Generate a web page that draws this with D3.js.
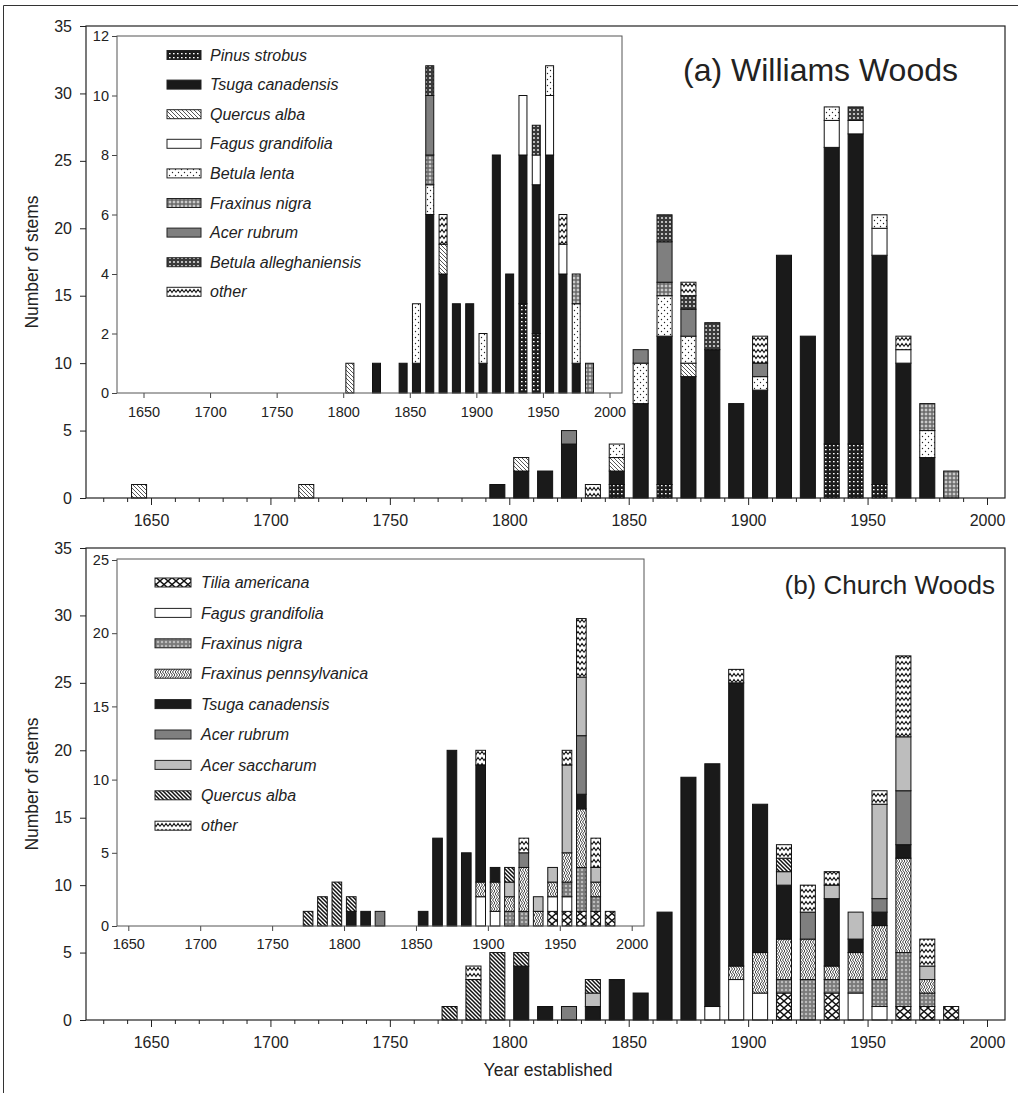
<!DOCTYPE html>
<html><head><meta charset="utf-8">
<script src="https://cdnjs.cloudflare.com/ajax/libs/d3/7.8.5/d3.min.js"></script>
<style>
body{margin:0;background:#fff}
svg{display:block}
text{font-family:"Liberation Sans",Arial,Helvetica,sans-serif;fill:#222}
</style>
</head><body>
<svg id="chart" width="1018" height="1093"></svg>
<script>
// ---------------- DATA ----------------
// Panel (a) Williams Woods — species (stack order, bottom to top)
const speciesA = ["Pinus strobus","Tsuga canadensis","Quercus alba","Fagus grandifolia","Betula lenta","Fraxinus nigra","Acer rubrum","Betula alleghaniensis","other"];
// main histogram (a)
const yearsMainA = [1645,1715,1795,1805,1815,1825,1835,1845,1855,1865,1875,1885,1895,1905,1915,1925,1935,1945,1955,1965,1975,1985];
const mainA_Pinus   = [0,0,0,0,0,0,0,1,0,1,0,0,0,0,0,0,4,4,1,0,0,0];
const mainA_Tsuga   = [0,0,1,2,2,4,0,1,7,11,9,11,7,8,18,12,22,23,17,10,3,0];
const mainA_Quercus = [1,1,0,1,0,0,0,1,0,0,1,0,0,0,0,0,0,0,0,0,0,0];
const mainA_Fagus   = [0,0,0,0,0,0,0,0,0,0,0,0,0,0,0,0,2,1,2,1,0,0];
const mainA_BLenta  = [0,0,0,0,0,0,0,1,3,3,2,0,0,1,0,0,1,0,1,0,2,0];
const mainA_FNigra  = [0,0,0,0,0,0,0,0,0,1,0,0,0,0,0,0,0,0,0,0,2,2];
const mainA_ARubrum = [0,0,0,0,0,1,0,0,1,3,2,0,0,1,0,0,0,0,0,0,0,0];
const mainA_BAllegh = [0,0,0,0,0,0,0,0,0,2,1,2,0,0,0,0,0,1,0,0,0,0];
const mainA_Other   = [0,0,0,0,0,0,1,0,0,0,1,0,0,2,0,0,0,0,0,1,0,0];
// inset histogram (a)
const yearsInsetA = [1805,1825,1845,1855,1865,1875,1885,1895,1905,1915,1925,1935,1945,1955,1965,1975,1985];
const insetA_Pinus   = [0,0,0,0,0,0,0,0,0,0,0,3,2,0,0,0,0];
const insetA_Tsuga   = [0,1,1,1,6,4,3,3,1,8,4,5,5,8,4,1,0];
const insetA_Quercus = [1,0,0,0,0,1,0,0,0,0,0,0,0,0,0,0,0];
const insetA_Fagus   = [0,0,0,0,0,0,0,0,0,0,0,2,1,2,1,0,0];
const insetA_BLenta  = [0,0,0,2,1,0,0,0,1,0,0,0,0,1,0,2,0];
const insetA_FNigra  = [0,0,0,0,1,0,0,0,0,0,0,0,0,0,0,1,1];
const insetA_ARubrum = [0,0,0,0,2,0,0,0,0,0,0,0,0,0,0,0,0];
const insetA_BAllegh = [0,0,0,0,1,0,0,0,0,0,0,0,1,0,0,0,0];
const insetA_Other   = [0,0,0,0,0,1,0,0,0,0,0,0,0,0,1,0,0];

// Panel (b) Church Woods
const speciesB = ["Tilia americana","Fagus grandifolia","Fraxinus nigra","Fraxinus pennsylvanica","Tsuga canadensis","Acer rubrum","Acer saccharum","Quercus alba","other"];
const yearsMainB = [1775,1785,1795,1805,1815,1825,1835,1845,1855,1865,1875,1885,1895,1905,1915,1925,1935,1945,1955,1965,1975,1985];
const mainB_Tilia   = [0,0,0,0,0,0,0,0,0,0,0,0,0,0,2,0,2,0,0,1,1,1];
const mainB_Fagus   = [0,0,0,0,0,0,0,0,0,0,0,1,3,2,0,0,0,2,1,0,0,0];
const mainB_FNigra  = [0,0,0,0,0,0,0,0,0,0,0,0,0,0,1,3,1,1,2,4,1,0];
const mainB_FPenn   = [0,0,0,0,0,0,0,0,0,0,0,0,1,3,3,3,1,2,4,7,1,0];
const mainB_Tsuga   = [0,0,0,4,1,0,1,3,2,8,18,18,21,11,4,0,5,1,1,1,0,0];
const mainB_ARubrum = [0,0,0,0,0,1,0,0,0,0,0,0,0,0,0,2,0,0,1,4,0,0];
const mainB_ASacch  = [0,0,0,0,0,0,1,0,0,0,0,0,0,0,1,0,1,2,7,4,1,0];
const mainB_Quercus = [1,3,5,1,0,0,1,0,0,0,0,0,0,0,1,0,0,0,0,0,0,0];
const mainB_Other   = [0,1,0,0,0,0,0,0,0,0,0,0,1,0,1,2,1,0,1,6,2,0];
const yearsInsetB = [1775,1785,1795,1805,1815,1825,1855,1865,1875,1885,1895,1905,1915,1925,1935,1945,1955,1965,1975,1985];
const insetB_Tilia   = [0,0,0,0,0,0,0,0,0,0,0,0,0,0,0,1,1,1,1,1];
const insetB_Fagus   = [0,0,0,0,0,0,0,0,0,0,2,1,0,0,0,1,1,0,0,0];
const insetB_FNigra  = [0,0,0,0,0,0,0,0,0,0,0,0,1,1,0,0,1,3,1,0];
const insetB_FPenn   = [0,0,0,0,0,0,0,0,0,0,1,2,1,3,1,1,2,4,1,0];
const insetB_Tsuga   = [0,0,0,1,1,0,1,6,12,5,8,1,0,0,0,0,0,1,0,0];
const insetB_ARubrum = [0,0,0,0,0,1,0,0,0,0,0,0,0,1,0,0,0,4,0,0];
const insetB_ASacch  = [0,0,0,0,0,0,0,0,0,0,0,0,1,0,1,1,6,4,1,0];
const insetB_Quercus = [1,2,3,1,0,0,0,0,0,0,0,0,1,0,0,0,0,0,0,0];
const insetB_Other   = [0,0,0,0,0,0,0,0,0,0,1,0,0,1,0,0,1,4,2,0];

// tick labels
const xTicksMain = [1650,1700,1750,1800,1850,1900,1950,2000];
const yTicksMain = [0,5,10,15,20,25,30,35];
const yTicksInsetA = [0,2,4,6,8,10,12];
const yTicksInsetB = [0,5,10,15,20,25];
const titleA = "(a) Williams Woods", titleB = "(b) Church Woods";
const yTitle = "Number of stems", xTitle = "Year established";

// ---------------- STYLES ----------------
const fillsA = ["url(#pinus)","#1a1a1a","url(#quercusA)","#ffffff","url(#lenta)","url(#fnigraA)","#7f7f7f","url(#allegh)","url(#other)"];
const fillsB = ["url(#tilia)","#ffffff","url(#fnigraB)","url(#fpenn)","#1a1a1a","#7f7f7f","#bdbdbd","url(#quercusB)","url(#other)"];

const svg = d3.select("#chart");
const defs = svg.append("defs");
function pat(id,w,h,bg,draw){
  const p = defs.append("pattern").attr("id",id).attr("patternUnits","userSpaceOnUse").attr("width",w).attr("height",h);
  p.append("rect").attr("width",w).attr("height",h).attr("fill",bg);
  draw(p);
}
pat("pinus",4,4,"#1c1c1c",p=>{p.append("rect").attr("x",1).attr("y",1).attr("width",1.6).attr("height",1.3).attr("fill","#fff");});
pat("allegh",4,4,"#3a3a3a",p=>{p.append("circle").attr("cx",2).attr("cy",2).attr("r",1.1).attr("fill","#ddd");});
pat("quercusA",4,4,"#fff",p=>{p.append("path").attr("d","M-1,-1L5,5M-1,3L1,5M3,-1L5,1").attr("stroke","#444").attr("stroke-width",0.9);});
pat("quercusB",4,4,"#fff",p=>{p.append("path").attr("d","M-1,-1L5,5M-1,3L1,5M3,-1L5,1").attr("stroke","#111").attr("stroke-width",1.5);});
pat("lenta",6,6,"#fff",p=>{p.append("circle").attr("cx",1.5).attr("cy",1.5).attr("r",0.7).attr("fill","#222");p.append("circle").attr("cx",4.5).attr("cy",4.5).attr("r",0.7).attr("fill","#222");});
pat("fnigraA",4,4,"#6e6e6e",p=>{p.append("path").attr("d","M2,0.6V3.4M0.6,2H3.4").attr("stroke","#fff").attr("stroke-width",0.8);});
pat("fnigraB",4,4,"#7a7a7a",p=>{p.append("path").attr("d","M2,0.8V3.2M0.8,2H3.2").attr("stroke","#eee").attr("stroke-width",0.7);});
pat("other",8,6,"#fff",p=>{p.append("path").attr("d","M0,4.5L2,1.5L4,4.5L6,1.5L8,4.5").attr("fill","none").attr("stroke","#111").attr("stroke-width",1.1);});
pat("fpenn",5,6,"#fff",p=>{p.append("path").attr("d","M0,0L2.5,3L0,6M2.5,0L5,3L2.5,6").attr("fill","none").attr("stroke","#222").attr("stroke-width",0.9);});
pat("tilia",8,7,"#fff",p=>{p.append("path").attr("d","M0,0L8,7M8,0L0,7").attr("stroke","#111").attr("stroke-width",1.4);});

// ---------------- HELPERS ----------------
function buildSeries(keys, arrays, fills){ return keys.map((k,i)=>({key:k, values:arrays[i], fill:fills[i]})); }
function drawBars(g, years, series, x, y, widthYears){
  const table = years.map((yr,i)=>{ const o={year:yr}; series.forEach(s=>o[s.key]=s.values[i]); return o; });
  const layers = d3.stack().keys(series.map(s=>s.key))(table);
  layers.forEach((layer,li)=>{
    g.append("g").selectAll("rect").data(layer.filter(d=>d[1]>d[0])).join("rect")
      .attr("x", d=>x(d.data.year - widthYears/2))
      .attr("width", d=>x(d.data.year + widthYears/2) - x(d.data.year - widthYears/2))
      .attr("y", d=>y(d[1]))
      .attr("height", d=>y(d[0]) - y(d[1]))
      .attr("fill", series[li].fill)
      .attr("stroke","#111").attr("stroke-width",1);
  });
}
function mainPanel(top, bottom, years, series){
  const x = d3.scaleLinear().domain([1650,2000]).range([151,987]);
  const left = 86, right = 1005;
  const y = d3.scaleLinear().domain([0,35]).range([bottom, top]);
  const g = svg.append("g");
  const minor = d3.range(1630, 2001, 10).filter(v=>v%50!==0);
  g.append("g").attr("transform",`translate(0,${bottom})`)
    .call(d3.axisBottom(x).tickValues(minor).tickSize(4).tickFormat(""))
    .call(a=>a.select(".domain").remove());
  g.append("g").attr("transform",`translate(0,${bottom})`)
    .call(d3.axisBottom(x).tickValues(xTicksMain).tickSize(7).tickPadding(10).tickFormat(d3.format("d")))
    .call(a=>a.select(".domain").remove())
    .call(a=>a.selectAll("text").attr("font-size",16).style("fill","#222"));
  g.append("g").attr("transform",`translate(${left},0)`)
    .call(d3.axisLeft(y).tickValues(yTicksMain).tickSize(6).tickPadding(8))
    .call(a=>a.select(".domain").remove())
    .call(a=>a.selectAll("text").attr("font-size",16).style("fill","#222"));
  g.selectAll(".tick line").attr("stroke","#222");
  drawBars(g, years, series, x, y, 6.3);
  g.append("rect").attr("x",left).attr("y",top).attr("width",right-left).attr("height",bottom-top)
    .attr("fill","none").attr("stroke","#222").attr("stroke-width",1.2);
  g.append("text").attr("transform",`translate(32,${(top+bottom)/2}) rotate(-90)`)
    .attr("text-anchor","middle").attr("dy","0.35em").attr("font-size",17.5).text(yTitle);
  return {x,y};
}
function insetPanel(box, x, y, yTicks, years, series, widthYears, padX){
  const g = svg.append("g");
  g.append("rect").attr("x",box.l).attr("y",box.t).attr("width",box.r-box.l).attr("height",box.b-box.t).attr("fill","#fff");
  g.append("g").attr("transform",`translate(0,${box.b})`)
    .call(d3.axisBottom(x).tickValues(xTicksMain).tickSize(5).tickPadding(padX).tickFormat(d3.format("d")))
    .call(a=>a.select(".domain").remove())
    .call(a=>a.selectAll("text").attr("font-size",14.5).style("fill","#222"));
  g.append("g").attr("transform",`translate(${box.l},0)`)
    .call(d3.axisLeft(y).tickValues(yTicks).tickSize(5).tickPadding(3))
    .call(a=>a.select(".domain").remove())
    .call(a=>a.selectAll("text").attr("font-size",14.5).style("fill","#222"));
  g.selectAll(".tick line").attr("stroke","#444");
  drawBars(g, years, series, x, y, widthYears);
  g.append("rect").attr("x",box.l).attr("y",box.t).attr("width",box.r-box.l).attr("height",box.b-box.t)
    .attr("fill","none").attr("stroke","#555").attr("stroke-width",1);
  return g;
}
function legend(g, keys, fills, x0, swW, labelX, y0, step){
  keys.forEach((k,i)=>{
    const cy = y0 + i*step;
    g.append("rect").attr("x",x0).attr("y",cy-4.5).attr("width",swW).attr("height",9)
      .attr("fill",fills[i]).attr("stroke","#222").attr("stroke-width",1);
    g.append("text").attr("x",labelX).attr("y",cy).attr("dy","0.35em")
      .attr("font-size",16).attr("font-style","italic").text(k);
  });
}

// ---------------- FIGURE ----------------
svg.append("path").attr("d","M3.5,1093V5.5H1018").attr("fill","none").attr("stroke","#333").attr("stroke-width",1);

// Panel (a)
const seriesMainA = buildSeries(speciesA,[mainA_Pinus,mainA_Tsuga,mainA_Quercus,mainA_Fagus,mainA_BLenta,mainA_FNigra,mainA_ARubrum,mainA_BAllegh,mainA_Other],fillsA);
mainPanel(26, 498, yearsMainA, seriesMainA);
const seriesInsetA = buildSeries(speciesA,[insetA_Pinus,insetA_Tsuga,insetA_Quercus,insetA_Fagus,insetA_BLenta,insetA_FNigra,insetA_ARubrum,insetA_BAllegh,insetA_Other],fillsA);
const xiA = d3.scaleLinear().domain([1650,2000]).range([143.5,609.5]);
const yiA = d3.scaleLinear().domain([0,12]).range([393,36]);
const gA = insetPanel({l:117,t:36,r:622,b:393}, xiA, yiA, yTicksInsetA, yearsInsetA, seriesInsetA, 6, 9);
legend(gA, speciesA, fillsA, 167, 34, 210, 55, 29.6);
svg.append("text").attr("x",958).attr("y",81).attr("text-anchor","end").attr("font-size",32).text(titleA);

// Panel (b)
const seriesMainB = buildSeries(speciesB,[mainB_Tilia,mainB_Fagus,mainB_FNigra,mainB_FPenn,mainB_Tsuga,mainB_ARubrum,mainB_ASacch,mainB_Quercus,mainB_Other],fillsB);
mainPanel(548, 1020, yearsMainB, seriesMainB);
const seriesInsetB = buildSeries(speciesB,[insetB_Tilia,insetB_Fagus,insetB_FNigra,insetB_FPenn,insetB_Tsuga,insetB_ARubrum,insetB_ASacch,insetB_Quercus,insetB_Other],fillsB);
const xiB = d3.scaleLinear().domain([1650,2000]).range([128.3,631.7]);
const yiB = d3.scaleLinear().domain([0,25]).range([926,560]);
const gB = insetPanel({l:117,t:559,r:644,b:926}, xiB, yiB, yTicksInsetB, yearsInsetB, seriesInsetB, 6.7, 8);
legend(gB, speciesB, fillsB, 155, 36, 201, 582.5, 30.4);
svg.append("text").attr("x",995).attr("y",594).attr("text-anchor","end").attr("font-size",26).text(titleB);

svg.append("text").attr("x",548).attr("y",1070).attr("text-anchor","middle").attr("dy","0.35em").attr("font-size",17.5).text(xTitle);
</script>
</body></html>
